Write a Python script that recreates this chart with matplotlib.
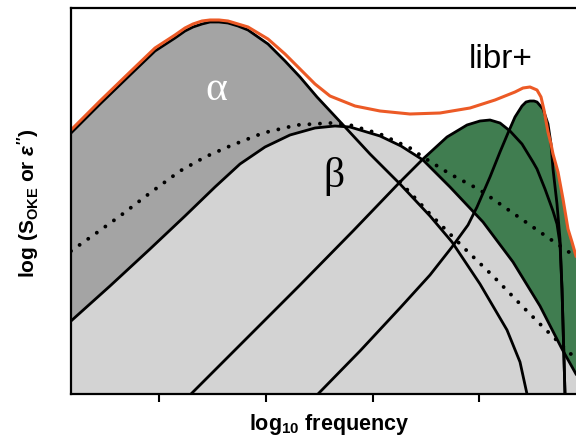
import matplotlib
matplotlib.use("Agg")
import matplotlib.pyplot as plt

plt.rcParams['mathtext.fontset'] = 'custom'
plt.rcParams['mathtext.rm'] = 'Liberation Sans:bold'
plt.rcParams['mathtext.it'] = 'Liberation Sans:italic:bold'
plt.rcParams['mathtext.bf'] = 'Liberation Sans:bold'

# schematic curves (arbitrary axis units)
alpha_x = [0, 29, 59, 84, 104, 114, 122, 131, 139, 148, 157, 167, 177, 197, 214, 229, 246, 274, 299, 329, 359, 381, 409, 436, 449, 456]
alpha_y = [261, 290, 319, 343, 356, 363, 367, 370, 372, 372, 371, 368, 364, 350, 333, 317, 297, 267, 240, 210, 178, 152, 110, 64, 32, 0]

beta_x = [0, 39, 79, 114, 144, 169, 194, 219, 244, 264, 279, 309, 330, 352, 379, 412, 442, 469, 491, 505]
beta_y = [73, 108, 145, 178, 207, 230, 247, 259, 266, 268, 267, 258, 248, 234, 207, 172, 132, 88, 45, 20]

libr1_x = [120, 179, 229, 282, 329, 352, 376, 396, 409, 419, 429, 439, 451, 462, 466, 474, 482, 486, 489, 491, 494]
libr1_y = [0, 59, 109, 163, 212, 235, 257, 269, 273, 274, 271, 263, 250, 232, 225, 205, 183, 170, 150, 105, 0]

libr2_x = [247, 289, 329, 359, 381, 397, 406, 419, 429, 437, 444, 451, 455, 459, 463, 466, 472, 477, 480, 482, 486, 489, 491, 494]
libr2_y = [0, 43, 86, 119, 147, 169, 187, 217, 242, 261, 277, 288, 292, 293, 293, 292, 285, 270, 250, 225, 190, 155, 105, 0]

total_x = [0, 29, 59, 84, 104, 114, 122, 131, 139, 148, 157, 167, 177, 197, 214, 229, 244, 259, 284, 309, 339, 369, 399, 424, 444,
           452, 459, 466, 470, 473, 477, 480, 482, 487, 492, 497, 501, 505]
total_y = [264, 293, 322, 346, 359, 366, 370, 373, 374, 374, 373, 370, 367, 355, 340, 325, 310, 298, 288, 283, 280, 281, 286, 294, 302,
           306, 307, 304, 297, 284, 262, 250, 240, 222, 195, 165, 152, 138]

diel1_x = [0, 24, 49, 79, 109, 134, 159, 192, 226, 259, 279, 309, 339, 352, 379, 409, 439, 469, 505]
diel1_y = [143, 160, 178, 201, 223, 237, 248, 261, 269, 271, 269, 260, 246, 237, 220, 204, 183, 162, 137]

diel2_x = [329, 346, 359, 372, 392, 422, 452, 472, 505]
diel2_y = [212, 194, 180, 167, 147, 118, 87, 67, 35]

tick_pos = [88, 195, 302, 408]

dark_gray = '#a4a4a4'
light_gray = '#d3d3d3'
green = '#407d50'
orange = '#ec5a26'

fig = plt.figure(figsize=(5.76, 4.39), dpi=100)
ax = fig.add_axes([71 / 576, 44 / 439, 505 / 576, 386 / 439])

ax.fill(alpha_x + [0], alpha_y + [0], color=dark_gray, lw=0, zorder=1)
ax.fill(libr1_x, libr1_y, color=green, lw=0, zorder=1)
ax.fill(libr2_x, libr2_y, color=green, lw=0, zorder=1)
# green strip under the total curve at the far right
edge_x = [x for x in total_x if x >= 480]
edge_y = [y for x, y in zip(total_x, total_y) if x >= 480]
ax.fill(edge_x + [505, 480], edge_y + [0, 0], color=green, lw=0, zorder=1)
ax.fill(beta_x + [505, 0], beta_y + [0, 0], color=light_gray, lw=0, zorder=1)

lw = 2.0
for xs, ys in [(alpha_x, alpha_y), (beta_x, beta_y), (libr1_x, libr1_y), (libr2_x, libr2_y)]:
    ax.plot(xs, ys, color='black', lw=lw, zorder=3, solid_joinstyle='round')
for xs, ys in [(diel1_x, diel1_y), (diel2_x, diel2_y)]:
    ax.plot(xs, ys, color='black', lw=2.8, linestyle=(0, (0.01, 2.7)),
            dash_capstyle='round', zorder=3)
ax.plot(total_x, total_y, color=orange, lw=2.2, zorder=4, solid_joinstyle='round')

ax.text(145, 305, '\u03b1', color='white', fontsize=30, family='Liberation Serif',
        ha='center', va='center', zorder=5)
ax.text(263, 219, '\u03b2', color='black', fontsize=30, family='Liberation Serif',
        ha='center', va='center', zorder=5)
ax.text(430, 335, 'libr+', color='black', fontsize=24, family='Liberation Sans',
        ha='center', va='center', zorder=5)

ax.set_xlim(0, 505)
ax.set_ylim(0, 386)
ax.set_xticks(tick_pos)
ax.set_xticklabels([])
ax.set_yticks([])
ax.tick_params(axis='x', direction='out', length=6, width=1.5, color='black')
for side in ['left', 'bottom', 'top']:
    ax.spines[side].set_linewidth(1.6)
    ax.spines[side].set_zorder(6)
ax.spines['right'].set_visible(False)

fig.text(329 / 576, 1 - 430 / 439, r'log$_\mathrm{10}$ frequency', ha='center', va='baseline',
         fontsize=15.5, fontweight='bold', family='Liberation Sans')
fig.text(28 / 576, 1 - 203 / 439, r"log (S$_\mathrm{OKE}$ or $\varepsilon''$)", ha='center', va='center',
         rotation=90, fontsize=15, fontweight='bold', family='Liberation Sans')

fig.savefig('out.png', dpi=100)
